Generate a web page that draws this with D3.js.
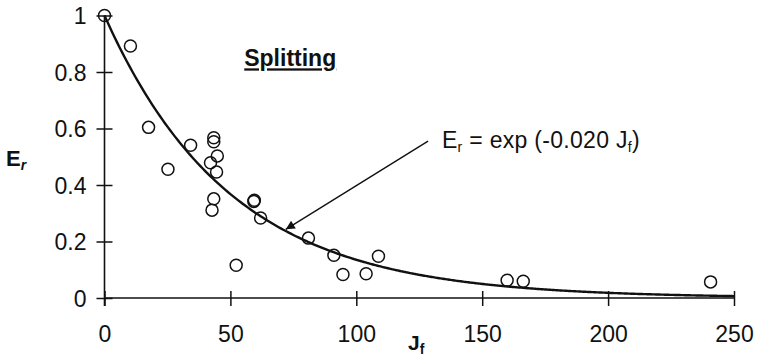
<!DOCTYPE html>
<html>
<head>
<meta charset="utf-8">
<script src="https://cdn.jsdelivr.net/npm/d3@7"></script>
<style>
  html, body { margin: 0; padding: 0; background: #fff; }
  svg { display: block; font-family: "Liberation Sans", Arial, sans-serif; }
</style>
</head>
<body>
<svg id="chart" width="757" height="359"></svg>
<script>
// Measured splitting data: fatigue parameter J_f vs. retained ratio E_r
const jf = [0, 10.3, 17.5, 25.2, 34.2, 43.4, 43.4, 44.8, 42.1, 44.5, 43.4, 42.7,
            52.3, 59.3, 59.5, 62.0, 81.0, 91.1, 94.7, 103.9, 108.8, 159.9, 166.3, 240.7];
const er = [1.0, 0.892, 0.604, 0.456, 0.541, 0.567, 0.553, 0.503, 0.479, 0.446, 0.351, 0.311,
            0.116, 0.342, 0.346, 0.283, 0.212, 0.151, 0.083, 0.086, 0.148, 0.063, 0.059, 0.057];

// Fitted decay coefficient: E_r = exp(-k J_f)
const k = 0.020;

const xTicks = [0, 50, 100, 150, 200, 250];
const yTicks = [0, 0.2, 0.4, 0.6, 0.8, 1];
const yTickLabels = ["0", "0.2", "0.4", "0.6", "0.8", "1"];

// Annotation anchors (data units)
const arrowFrom = [128.5, 0.555];
const arrowTo = [72.0, 0.243];
const eqAt = [134.0, 0.53];
const titleAt = [55.5, 0.82];

const svg = d3.select("#chart");
const plotL = 104.5, plotR = 734, plotT = 15.5, plotB = 298;

const x = d3.scaleLinear().domain([0, 250]).range([plotL, plotR]);
const y = d3.scaleLinear().domain([0, 1]).range([plotB, plotT]);

// Axes with ticks crossing the axis line
const xAxis = d3.axisBottom(x).tickValues(xTicks).tickSize(0).tickFormat(d3.format("d"));
const gx = svg.append("g").attr("transform", `translate(0,${plotB})`).call(xAxis);
gx.select(".domain").remove();
gx.selectAll("text").remove();
svg.append("line").attr("x1", x(0)).attr("x2", x(250)).attr("y1", plotB).attr("y2", plotB)
  .attr("stroke", "#111").attr("stroke-width", 1.6);
gx.selectAll(".tick line").attr("y1", -7).attr("y2", 8).attr("stroke", "#111").attr("stroke-width", 1.5);
gx.selectAll(".tick").append("text")
  .attr("y", 44).attr("text-anchor", "middle")
  .attr("font-size", 23).attr("fill", "#111")
  .text(d => d);

const yAxis = d3.axisLeft(y).tickValues(yTicks).tickSize(0);
const gy = svg.append("g").attr("transform", `translate(${plotL},0)`).call(yAxis);
gy.select(".domain").remove();
gy.selectAll("text").remove();
svg.append("line").attr("x1", plotL).attr("x2", plotL).attr("y1", plotT).attr("y2", plotB + 8)
  .attr("stroke", "#111").attr("stroke-width", 1.6);
gy.selectAll(".tick line").attr("x1", -8).attr("x2", 8).attr("stroke", "#111").attr("stroke-width", 1.5);
gy.selectAll(".tick").append("text")
  .attr("x", -18).attr("dy", "0.36em").attr("text-anchor", "end")
  .attr("font-size", 23).attr("fill", "#111")
  .text((d, i) => yTickLabels[i]);

// Fitted curve
const curveJ = d3.range(0, 250.01, 1);
const line = d3.line().x(d => x(d)).y(d => y(Math.exp(-k * d))).curve(d3.curveBasis);
svg.append("path").datum(curveJ).attr("d", line)
  .attr("fill", "none").attr("stroke", "#111").attr("stroke-width", 2.4);

// Observations
svg.append("g").selectAll("circle").data(jf).join("circle")
  .attr("cx", d => x(d)).attr("cy", (d, i) => y(er[i])).attr("r", 6)
  .attr("fill", "none").attr("stroke", "#111").attr("stroke-width", 1.5);

// Arrow pointing at the curve
const defs = svg.append("defs");
defs.append("marker").attr("id", "head").attr("viewBox", "0 0 10 10")
  .attr("refX", 10).attr("refY", 5).attr("markerWidth", 14).attr("markerHeight", 9)
  .attr("markerUnits", "userSpaceOnUse").attr("orient", "auto")
  .append("path").attr("d", "M0,0 L10,5 L0,10 Z").attr("fill", "#111");
svg.append("line")
  .attr("x1", x(arrowFrom[0])).attr("y1", y(arrowFrom[1]))
  .attr("x2", x(arrowTo[0])).attr("y2", y(arrowTo[1]))
  .attr("stroke", "#111").attr("stroke-width", 1.4).attr("marker-end", "url(#head)");

// Equation label
const eq = svg.append("text").attr("x", x(eqAt[0])).attr("y", y(eqAt[1]))
  .attr("font-size", 23).attr("letter-spacing", 0.3).attr("fill", "#111");
eq.append("tspan").text("E");
eq.append("tspan").attr("font-size", 14).attr("dy", 4).text("r");
eq.append("tspan").attr("dy", -4).text(" = exp (-0.020 J");
eq.append("tspan").attr("font-size", 14).attr("dy", 4).text("f");
eq.append("tspan").attr("dy", -4).text(")");

// Panel title
svg.append("text").attr("x", x(titleAt[0])).attr("y", y(titleAt[1]))
  .attr("font-size", 23).attr("font-weight", "bold").attr("fill", "#111")
  .attr("text-decoration", "underline").text("Splitting");

// Axis titles
const yl = svg.append("text").attr("x", 6).attr("y", 166)
  .attr("font-size", 22).attr("font-weight", "bold").attr("fill", "#111");
yl.append("tspan").text("E");
yl.append("tspan").attr("font-size", 14).attr("dy", 4).attr("font-style", "italic").text("r");

const xl = svg.append("text").attr("x", 408).attr("y", 350)
  .attr("font-size", 21).attr("font-weight", "bold").attr("fill", "#111");
xl.append("tspan").text("J");
xl.append("tspan").attr("font-size", 14).attr("dy", 4).text("f");
</script>
</body>
</html>
